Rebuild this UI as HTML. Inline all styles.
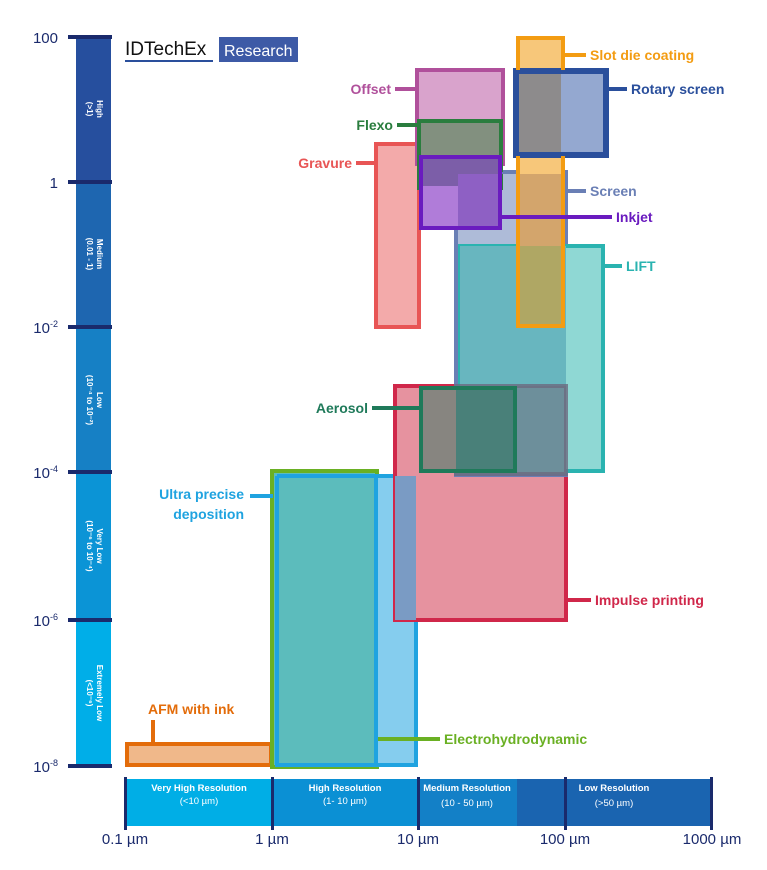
<!DOCTYPE html>
<html><head><meta charset="utf-8"><style>
html,body{margin:0;padding:0;background:#fff;}
svg{display:block;font-family:"Liberation Sans",sans-serif;}
.lb{font-weight:bold;font-size:14px;}
</style></head><body>
<svg width="767" height="870" viewBox="0 0 767 870" xmlns="http://www.w3.org/2000/svg">
<!-- left bar -->
<rect x="76" y="37" width="35" height="145" fill="#264f9e"/>
<rect x="76" y="182" width="35" height="145" fill="#1e66b0"/>
<rect x="76" y="327" width="35" height="145" fill="#1680c5"/>
<rect x="76" y="472" width="35" height="148" fill="#0b94d6"/>
<rect x="76" y="620" width="35" height="146" fill="#00aee8"/>
<g fill="#1a2a6c">
<rect x="68" y="35" width="44" height="4"/><rect x="68" y="180" width="44" height="4"/><rect x="68" y="325" width="44" height="4"/>
<rect x="68" y="470" width="44" height="4"/><rect x="68" y="618" width="44" height="4"/><rect x="68" y="764" width="44" height="4"/>
</g>
<g fill="#1a2a6c" font-size="15" text-anchor="end">
<text x="58" y="43">100</text><text x="58" y="188">1</text>
<text x="58" y="333">10<tspan font-size="9" dy="-6">-2</tspan></text>
<text x="58" y="478">10<tspan font-size="9" dy="-6">-4</tspan></text>
<text x="58" y="626">10<tspan font-size="9" dy="-6">-6</tspan></text>
<text x="58" y="772">10<tspan font-size="9" dy="-6">-8</tspan></text>
</g>
<g fill="#fff" font-size="8" font-weight="bold" text-anchor="middle">
<text transform="translate(97,109) rotate(90)">High</text><text transform="translate(87,109) rotate(90)">(&gt;1)</text>
<text transform="translate(97,254) rotate(90)">Medium</text><text transform="translate(87,254) rotate(90)">(0.01 - 1)</text>
<text transform="translate(97,400) rotate(90)">Low</text><text transform="translate(87,400) rotate(90)">(10⁻⁴ to 10⁻²)</text>
<text transform="translate(97,546) rotate(90)">Very Low</text><text transform="translate(87,546) rotate(90)">(10⁻⁶ to 10⁻⁴)</text>
<text transform="translate(97,693) rotate(90)">Extremely Low</text><text transform="translate(87,693) rotate(90)">(&lt;10⁻⁶)</text>
</g>
<!-- logo -->
<text x="125" y="55" font-size="19" fill="#111">IDTechEx</text>
<rect x="125" y="60" width="88" height="2" fill="#2a4f9c"/>
<rect x="219" y="37" width="79" height="25" fill="#3d5aa6"/>
<text x="224" y="56" font-size="16" fill="#fff">Research</text>
<!-- bottom bar -->
<rect x="125" y="779" width="147" height="47" fill="#00aee6"/>
<rect x="272" y="779" width="146" height="47" fill="#0b90d4"/>
<rect x="418" y="779" width="99" height="47" fill="#1380c7"/>
<rect x="517" y="779" width="195" height="47" fill="#1a64b0"/>
<g fill="#1a2a6c"><rect x="124" y="777" width="3" height="53"/><rect x="271" y="777" width="3" height="53"/><rect x="417" y="777" width="3" height="53"/><rect x="564" y="777" width="3" height="53"/><rect x="710" y="777" width="3" height="53"/></g>
<g fill="#fff" font-size="9.5" font-weight="bold" text-anchor="middle">
<text x="199" y="791">Very High Resolution</text><text x="199" y="804" font-weight="normal">(&lt;10 µm)</text>
<text x="345" y="791">High Resolution</text><text x="345" y="804" font-weight="normal">(1- 10 µm)</text>
<text x="467" y="791">Medium Resolution</text><text x="467" y="806" font-weight="normal">(10 - 50 µm)</text>
<text x="614" y="791">Low Resolution</text><text x="614" y="806" font-weight="normal">(&gt;50 µm)</text>
</g>
<g fill="#1a2a6c" font-size="15" text-anchor="middle">
<text x="125" y="844">0.1 µm</text><text x="272" y="844">1 µm</text><text x="418" y="844">10 µm</text><text x="565" y="844">100 µm</text><text x="712" y="844">1000 µm</text>
</g>
<!-- boxes -->
<g stroke-width="4">
<rect x="127" y="744" width="144" height="21" fill="#f0b88a" stroke="#e36c0a"/>
<rect x="272" y="471" width="105" height="296" fill="#5cbcbc" stroke="#6ab023"/>
<rect x="376" y="476" width="40" height="289" fill="#85cdee" stroke="#1fa3e0"/>
<path d="M277 476 H376 M277 476 V765 H376" fill="none" stroke="#1fa3e0"/>
<rect x="395" y="386" width="171" height="234" fill="#e6929f" stroke="#d0274a"/>
<rect x="395" y="476" width="21" height="144" fill="#7a9bc4" stroke="none"/>
<rect x="456" y="172" width="110" height="303" fill="#aebbd8" stroke="#6a7fb5" fill-opacity="1"/>
<rect x="460" y="246" width="143" height="225" fill="#8fd8d4" stroke="#2ab3b0"/>
<rect x="460" y="246" width="106" height="140" fill="#68b6bf" stroke="none"/>
<rect x="456" y="386" width="110" height="88" fill="#6d8f9b" stroke="#6b6a80" stroke-opacity="0.8"/>
<rect x="421" y="388" width="94" height="83" fill="#498079" stroke="#1f7a5a"/>
<rect x="423" y="390" width="33" height="79" fill="#878580" stroke="none"/>
<rect x="376" y="144" width="43" height="183" fill="#f3aaaa" stroke="#e85555"/>
<rect x="417" y="70" width="86" height="94" fill="#d9a3cc" stroke="#b0509b"/>
<rect x="419" y="121" width="82" height="67" fill="#82907f" stroke="#2a7d3e"/>
<rect x="456" y="172" width="110" height="2" fill="#6a7fb5" stroke="none"/>
<rect x="421" y="157" width="79" height="71" fill="#b07cd9" stroke="#6a1bbf"/>
<rect x="423" y="159" width="75" height="27" fill="#7c5ea8" stroke="none"/>
<rect x="458" y="174" width="40" height="52" fill="#8e60c4" stroke="none"/>
<rect x="518" y="38" width="45" height="288" fill="#f7c77a" stroke="#f39c12"/>
<rect x="520" y="174" width="41" height="72" fill="#d3a56c" stroke="none"/>
<rect x="520" y="246" width="41" height="78" fill="#afa764" stroke="none"/>
<rect x="515" y="70" width="92" height="86" fill="#94a8d0" stroke="#2a4f9c"/>
<rect x="517" y="72" width="44" height="82" fill="#8d8b8c" stroke="none"/>
<path d="M517 72 V154 H605 V72 Z" fill="none" stroke="#2a4f9c"/>
<path d="M518 38 V70 M563 38 V70 M518 156 V326 H563 V156" fill="none" stroke="#f39c12"/>
</g>
<!-- labels & leaders -->
<g stroke-width="4" fill="none">
<path d="M153 720 V744" stroke="#e36c0a"/>
<path d="M378 739 H440" stroke="#6ab023"/>
<path d="M250 496 H273" stroke="#1fa3e0"/>
<path d="M566 600 H591" stroke="#d0274a"/>
<path d="M372 408 H420" stroke="#1f7a5a"/>
<path d="M566 191 H586" stroke="#6a7fb5"/>
<path d="M603 266 H622" stroke="#2ab3b0"/>
<path d="M563 55 H586" stroke="#f39c12"/>
<path d="M607 89 H627" stroke="#2a4f9c"/>
<path d="M395 89 H417" stroke="#b0509b"/>
<path d="M397 125 H419" stroke="#2a7d3e"/>
<path d="M356 163 H376" stroke="#e85555"/>
<path d="M500 217 H612" stroke="#6a1bbf"/>
</g>
<g class="lb">
<text x="148" y="714" fill="#e36c0a">AFM with ink</text>
<text x="444" y="744" fill="#6ab023">Electrohydrodynamic</text>
<text x="244" y="499" fill="#1fa3e0" text-anchor="end">Ultra precise</text>
<text x="244" y="519" fill="#1fa3e0" text-anchor="end">deposition</text>
<text x="595" y="605" fill="#d0274a">Impulse printing</text>
<text x="368" y="413" fill="#1f7a5a" text-anchor="end">Aerosol</text>
<text x="590" y="196" fill="#6a7fb5">Screen</text>
<text x="626" y="271" fill="#2ab3b0">LIFT</text>
<text x="590" y="60" fill="#f39c12">Slot die coating</text>
<text x="631" y="94" fill="#2a4f9c">Rotary screen</text>
<text x="391" y="94" fill="#b0509b" text-anchor="end">Offset</text>
<text x="393" y="130" fill="#2a7d3e" text-anchor="end">Flexo</text>
<text x="352" y="168" fill="#e85555" text-anchor="end">Gravure</text>
<text x="616" y="222" fill="#6a1bbf">Inkjet</text>
</g>
</svg>
</body></html>
